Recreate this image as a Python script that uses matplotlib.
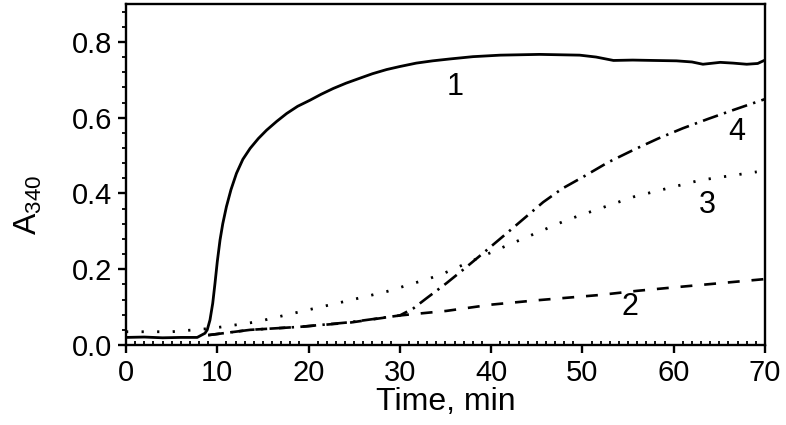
import matplotlib
matplotlib.use("Agg")
import matplotlib.pyplot as plt
from matplotlib.ticker import MultipleLocator

plt.rcParams['font.family'] = ['Liberation Sans', 'DejaVu Sans']
plt.rcParams['mathtext.fontset'] = 'custom'
plt.rcParams['mathtext.rm'] = 'Liberation Sans'
plt.rcParams['mathtext.it'] = 'Liberation Sans'

# Curve 1 (solid)
t1 = [0, 2, 4, 6, 7.8, 8.65, 8.9, 9.2, 9.5, 9.75, 10.0, 10.3, 10.6, 11.0, 11.5, 12.1, 12.8,
      13.6, 14.5, 15.4, 16.5, 17.6, 18.8, 20.15, 21.4, 22.7, 24.1, 25.6, 27.0, 28.55, 30.0,
      31.8, 33.6, 35.5, 38.0, 41, 45.3, 49.7, 51.5, 53.4, 55.5, 57.8, 60.3, 62.0, 63.2,
      65.1, 66.5, 68.0, 69.2, 70]
a1 = [0.02, 0.021, 0.019, 0.02, 0.02, 0.031, 0.04, 0.066, 0.11, 0.163, 0.22, 0.277, 0.32,
      0.365, 0.41, 0.453, 0.49, 0.519, 0.545, 0.567, 0.59, 0.611, 0.63, 0.646, 0.662, 0.677,
      0.691, 0.704, 0.716, 0.727, 0.735, 0.744, 0.75, 0.755, 0.761, 0.765, 0.767, 0.765,
      0.76, 0.751, 0.752, 0.751, 0.750, 0.747, 0.741, 0.746, 0.744, 0.741, 0.743, 0.752]
# Curve 2 (dashed)
t2 = [9, 13.6, 19.1, 24.5, 30, 35.1, 40, 45, 51.9, 56, 60, 65, 70]
a2 = [0.026, 0.04, 0.048, 0.059, 0.078, 0.09, 0.1065, 0.118, 0.132, 0.143, 0.152, 0.163, 0.174]
# Curve 3 (dotted)
t3 = [0, 5, 9.4, 14.3, 19.1, 23.8, 28.55, 33.3, 34.9, 41, 48.3, 55.6, 62.9, 69.1]
a3 = [0.035, 0.035, 0.044, 0.061, 0.088, 0.114, 0.141, 0.176, 0.19, 0.255, 0.330, 0.391,
      0.435, 0.457]
# Curve 4 (dash-dot)
t4 = [9, 13.6, 19.1, 24.5, 30, 31.5, 32.9, 35.1, 37.0, 39.1, 42.1, 45.7, 47.8, 50.1, 52.8,
      55.6, 58.3, 61.0, 63.8, 66.5, 70]
a4 = [0.026, 0.04, 0.048, 0.06, 0.078, 0.097, 0.123, 0.163, 0.20, 0.242, 0.303, 0.377,
      0.413, 0.444, 0.482, 0.515, 0.545, 0.572, 0.597, 0.620, 0.649]

curve_labels = ["1", "2", "3", "4"]
label_x = [36.0, 55.2, 63.7, 66.9]
label_y = [0.68, 0.10, 0.369, 0.562]

fig = plt.figure(figsize=(7.86, 4.25), dpi=100)
ax = fig.add_axes([126/786, 1-345/425, (765-126)/786, (345-4)/425])

ax.plot(t1, a1, color='black', lw=2.0, solid_joinstyle='round')
ax.plot(t2, a2, color='black', lw=1.9, linestyle=(0, (4.5, 4.5)))
ax.plot(t3, a3, color='black', lw=2.0, linestyle=(0, (0.8, 4.8)))
ax.plot(t4, a4, color='black', lw=1.9, linestyle=(0, (6, 2.4, 0.9, 2.4)))

for s, x, y in zip(curve_labels, label_x, label_y):
    ax.text(x, y, s, fontsize=22, ha='center', va='center')

ax.set_xlim(0, 70)
ax.set_ylim(0, 0.9)
ax.xaxis.set_major_locator(MultipleLocator(10))
ax.xaxis.set_minor_locator(MultipleLocator(1))
ax.yaxis.set_major_locator(MultipleLocator(0.2))
ax.yaxis.set_minor_locator(MultipleLocator(0.04))
ax.yaxis.set_major_formatter(matplotlib.ticker.FormatStrFormatter('%.1f'))

for sp in ax.spines.values():
    sp.set_linewidth(1.7)

ax.tick_params(axis='x', which='major', direction='out', length=6, width=1.7,
               labelsize=21, pad=4)
ax.tick_params(axis='x', which='minor', direction='in', length=3, width=1.3)
ax.tick_params(axis='y', which='major', direction='out', length=6, width=1.7,
               labelsize=21, pad=4)
ax.tick_params(axis='y', which='minor', direction='out', length=3, width=1.3)

ax.set_xlabel('Time, min', fontsize=23, labelpad=0)
ax.set_ylabel('A$_{340}$', fontsize=23)
ax.yaxis.set_label_coords(-0.128, 0.41)

fig.savefig('out.png', dpi=100)
